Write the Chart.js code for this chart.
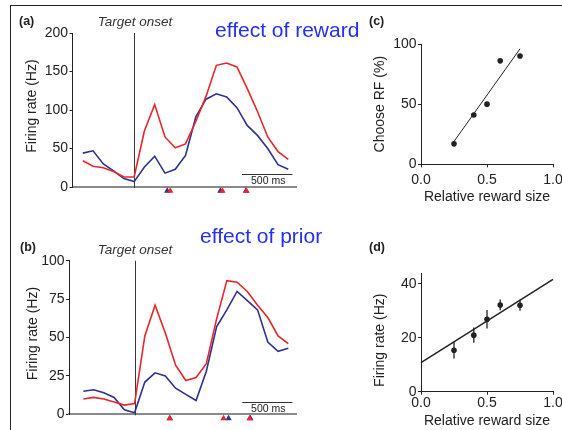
<!DOCTYPE html>
<html><head><meta charset="utf-8">
<script src="https://cdn.jsdelivr.net/npm/chart.js@4/dist/chart.umd.min.js"></script>
<style>
html,body{margin:0;padding:0;background:#fff;}
#fig{position:relative;width:562px;height:430px;overflow:hidden;font-family:"Liberation Sans",Arial,Helvetica,sans-serif;color:#222;}
canvas{position:absolute;}
.lbl{position:absolute;white-space:nowrap;line-height:1;}
.pl{font-weight:bold;font-size:12.5px;color:#222;}
.eff{font-size:21px;color:#2430f0;}
.to{font-style:italic;font-size:13.5px;color:#333;transform:translateX(-50%);}
</style></head><body>
<div id="fig">
  <div style="position:absolute;left:10px;top:5px;width:552px;height:1px;background:#222"></div>
  <div style="position:absolute;left:10px;top:5px;width:1px;height:425px;background:#222"></div>
  <canvas id="ca" width="300" height="210" style="left:0;top:0"></canvas>
  <canvas id="cb" width="300" height="210" style="left:0;top:220px"></canvas>
  <canvas id="cc" width="215" height="210" style="left:360px;top:0"></canvas>
  <canvas id="cd" width="215" height="210" style="left:360px;top:220px"></canvas>
  <div class="lbl pl" style="left:19px;top:15px">(a)</div>
  <div class="lbl pl" style="left:20px;top:241px">(b)</div>
  <div class="lbl pl" style="left:369px;top:15px">(c)</div>
  <div class="lbl pl" style="left:369px;top:241px">(d)</div>
  <div class="lbl eff" style="left:215px;top:19px">effect of reward</div>
  <div class="lbl eff" style="left:200px;top:225px">effect of prior</div>
  <div class="lbl to" style="left:135px;top:15px">Target onset</div>
  <div class="lbl to" style="left:135px;top:243px">Target onset</div>
</div>
<script>
// ---- data ----
const timeMs = [-500,-400,-300,-200,-100,0,100,200,300,400,500,600,700,800,900,1000,1100,1200,1300,1400,1500];
const rewardLarge = [34,27,25,20,13,13,73,107,65,51,56,85,118,158,161,156,128,98,65,46,36];   // red
const rewardSmall = [44,47,30,21,11,7,26,40,18,23,41,91,114,121,117,103,80,67,50,29,23];     // blue
const rewardLargeMarks = [351,859,1093];
const rewardSmallMarks = [322,839,1088];
const priorHigh = [10,11,10,8,6,7,51,71,53,32,22,24,33,62,87,86,80,71,63,51,46];             // red
const priorLow  = [15,16,14,11,3,1,21,27,25,17,13,9,28,57,68,80,74,68,47,41,43];             // blue
const priorHighMarks = [341,868,1122];
const priorLowMarks  = [345,917,1130];
const rewardSize = [0.25,0.4,0.5,0.6,0.75];
const chooseRF = [17,41,50,86,90];
const chooseFitX = [0.25,0.75];
const chooseFitY = [19,96];
const firingRate = [15.4,21,26.9,32.2,32.1];
const firingErr = [3.1,2.8,3.4,2,2];
const rateFitX = [0,1];
const rateFitY = [10.8,41.7];

const RED = '#e8262b', BLUE = '#2d3192', INK = '#222';
const FONT = '"Liberation Sans", Arial, Helvetica, sans-serif';
Chart.defaults.font.family = FONT;
Chart.defaults.color = INK;

function tri(ctx, x, y, r, color) {
  ctx.fillStyle = color;
  ctx.beginPath();
  ctx.moveTo(x, y - r);
  ctx.lineTo(x + r * 0.866, y + r / 2);
  ctx.lineTo(x - r * 0.866, y + r / 2);
  ctx.closePath();
  ctx.fill();
}

const extras = {
  id: 'extras',
  beforeDatasetsDraw(chart, args, o) {
    const ctx = chart.ctx, xs = chart.scales.x, ys = chart.scales.y;
    ctx.save();
    if (o.onset !== undefined) {
      const px = Math.round(xs.getPixelForValue(o.onset)) + 0.5;
      ctx.strokeStyle = '#3a3a3a'; ctx.lineWidth = 1;
      ctx.beginPath();
      ctx.moveTo(px, ys.getPixelForValue(ys.max));
      ctx.lineTo(px, ys.getPixelForValue(ys.min) + 1);
      ctx.stroke();
    }
    if (o.err) {
      ctx.strokeStyle = INK; ctx.lineWidth = 1.3;
      o.err.x.forEach((xv, i) => {
        const px = xs.getPixelForValue(xv);
        ctx.beginPath();
        ctx.moveTo(px, ys.getPixelForValue(o.err.y[i] - o.err.e[i]));
        ctx.lineTo(px, ys.getPixelForValue(o.err.y[i] + o.err.e[i]));
        ctx.stroke();
      });
    }
    if (o.bar) {
      const x0 = xs.getPixelForValue(o.bar.from), x1 = xs.getPixelForValue(o.bar.to);
      const py = Math.round(ys.getPixelForValue(o.bar.at)) + 0.5;
      ctx.strokeStyle = '#333'; ctx.lineWidth = 1;
      ctx.beginPath(); ctx.moveTo(x0, py); ctx.lineTo(x1, py); ctx.stroke();
      ctx.fillStyle = '#222'; ctx.font = '10.5px ' + FONT;
      ctx.textAlign = 'center'; ctx.textBaseline = 'top';
      ctx.fillText(o.bar.text, (x0 + x1) / 2 + 1, py + 1.5);
    }
    ctx.restore();
  },
  afterDatasetsDraw(chart, args, o) {
    if (!o.marks) return;
    const ctx = chart.ctx, xs = chart.scales.x, ys = chart.scales.y;
    ctx.save();
    const py = ys.getPixelForValue(o.marks.y);
    o.marks.blue.forEach(t => tri(ctx, xs.getPixelForValue(t), py, 3.7, BLUE));
    o.marks.red.forEach(t => tri(ctx, xs.getPixelForValue(t), py, 3.7, RED));
    ctx.restore();
  }
};

function pts(xs, ys) { return xs.map((x, i) => ({x: x, y: ys[i]})); }

function timeChart(id, p) {
  return new Chart(document.getElementById(id), {
    type: 'line',
    data: { datasets: [
      {data: pts(timeMs, p.red), borderColor: RED, borderWidth: 1.6, pointRadius: 0, tension: 0},
      {data: pts(timeMs, p.blue), borderColor: BLUE, borderWidth: 1.6, pointRadius: 0, tension: 0}
    ]},
    options: {
      responsive: false, animation: false, events: [],
      layout: {padding: {top: p.top, right: 4, left: 0, bottom: 0}},
      plugins: {legend: {display: false}, tooltip: {enabled: false},
        extras: {onset: 0, bar: {from: 1050, to: 1540, at: p.barAt, text: '500 ms'},
                 marks: {red: p.redMarks, blue: p.blueMarks, y: p.triY}}},
      scales: {
        x: {type: 'linear', min: p.xmin, max: 1575,
            ticks: {display: false}, grid: {display: false},
            border: {display: true, color: '#8a8a8a', width: 2},
            afterFit(s) { s.height = p.xh; }},
        y: {min: 0, max: p.ymax,
            ticks: {stepSize: p.step, color: INK, font: {size: 14}, padding: 1.5},
            grid: {display: true, drawOnChartArea: false, drawTicks: true, tickLength: 3, color: INK},
            border: {display: true, color: INK, width: 1},
            title: {display: true, text: p.ytitle, color: INK, font: {size: 14},
                    padding: {top: p.tpad, bottom: 0}},
            afterFit(s) { s.width = p.yw; }}
      }
    },
    plugins: [extras]
  });
}

timeChart('ca', {red: rewardLarge, blue: rewardSmall, redMarks: rewardLargeMarks, blueMarks: rewardSmallMarks,
  triY: -5.2, ymax: 200, step: 50, top: 33, xh: 23, yw: 72.5, xmin: -600, tpad: 23.6, barAt: 17,
  ytitle: '\u00a0\u00a0Firing rate (Hz)'});
timeChart('cb', {red: priorHigh, blue: priorLow, redMarks: priorHighMarks, blueMarks: priorLowMarks,
  triY: -2.7, ymax: 100, step: 25, top: 40.7, xh: 15.7, yw: 69, xmin: -640, tpad: 25.1, barAt: 7.8,
  ytitle: '\u00a0\u00a0Firing rate (Hz)'});

function scatterChart(id, p) {
  return new Chart(document.getElementById(id), {
    type: 'line',
    data: { datasets: [
      {data: pts(rewardSize, p.y), showLine: false, pointRadius: 2.8, pointBackgroundColor: INK,
       pointBorderWidth: 0},
      {data: pts(p.fx, p.fy), borderColor: INK, borderWidth: p.lw, pointRadius: 0, tension: 0, clip: false}
    ]},
    options: {
      responsive: false, animation: false, events: [],
      layout: {padding: {top: p.top, right: 22, left: 0, bottom: 0}},
      plugins: {legend: {display: false}, tooltip: {enabled: false}, extras: p.extras || {}},
      scales: {
        x: {type: 'linear', min: 0, max: 1,
            ticks: {stepSize: 0.5, color: INK, font: {size: 14}, padding: p.xpad,
                    callback: v => v.toFixed(1)},
            grid: {display: true, drawOnChartArea: false, drawTicks: true, tickLength: 3, color: INK},
            border: {display: true, color: INK, width: 1},
            title: {display: true, text: 'Relative reward size', color: INK, font: {size: 14},
                    padding: {top: 0, bottom: p.xtpad}},
            afterFit(s) { s.height = p.xh; }},
        y: {min: 0, max: p.ymax,
            ticks: {stepSize: p.step, includeBounds: false, color: INK, font: {size: 14}, padding: 1.5},
            afterBuildTicks(s) { s.ticks = s.ticks.filter(t => t.value % p.step === 0); },
            grid: {display: true, drawOnChartArea: false, drawTicks: true, tickLength: 3, color: INK},
            border: {display: true, color: INK, width: 1},
            title: {display: true, text: p.ytitle, color: INK, font: {size: 14},
                    padding: {top: p.tpad, bottom: 0}},
            afterFit(s) { s.width = 61; }}
      }
    },
    plugins: [extras]
  });
}

scatterChart('cc', {y: chooseRF, fx: chooseFitX, fy: chooseFitY, lw: 1, top: 44, ymax: 100, step: 50,
  xh: 45.7, xpad: 4, xtpad: 4.9, tpad: 11.6, ytitle: 'Choose RF (%)'});
scatterChart('cd', {y: firingRate, fx: rateFitX, fy: rateFitY, lw: 1.5, top: 53.2, ymax: 44, step: 20,
  xh: 38.3, xpad: 0, xtpad: 0, tpad: 12.1, ytitle: 'Firing rate (Hz)\u00a0\u00a0\u00a0\u00a0',
  extras: {err: {x: rewardSize, y: firingRate, e: firingErr}}});
</script>
</body></html>
